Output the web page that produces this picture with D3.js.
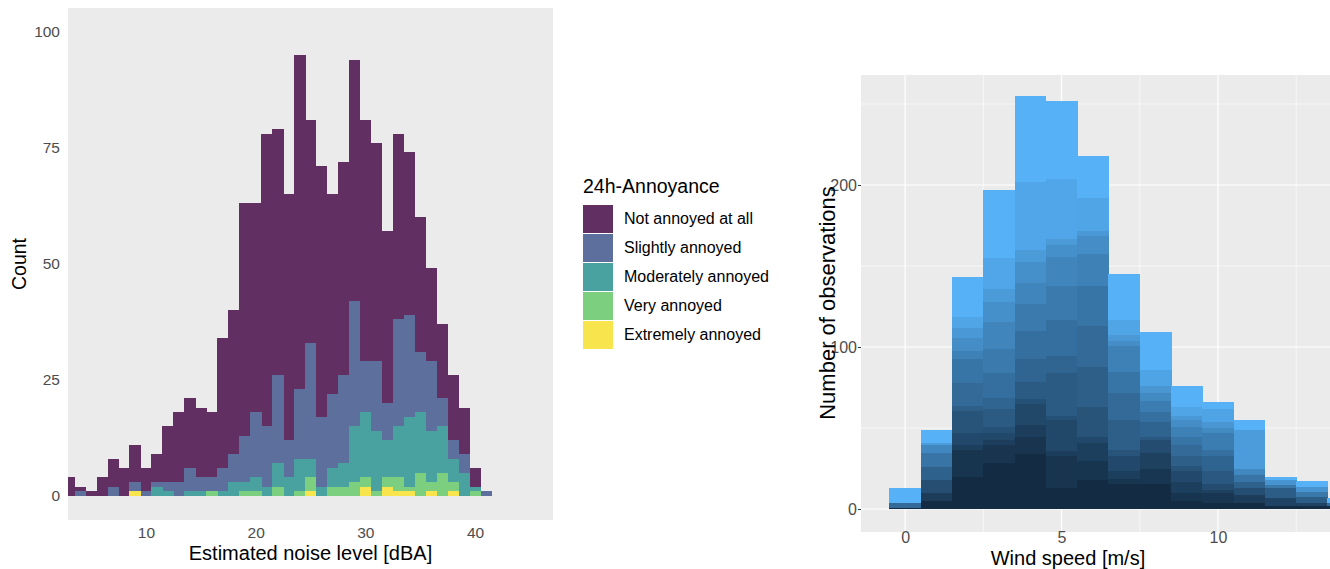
<!DOCTYPE html>
<html>
<head>
<meta charset="utf-8">
<script src="https://cdn.jsdelivr.net/npm/d3@7"></script>
<style>
  body { margin: 0; background: #ffffff; }
  svg { display: block; }
  text { font-family: "Liberation Sans", Arial, sans-serif; }
  .narrow text, text.narrow { font-family: "Liberation Sans Narrow", "Liberation Sans", Arial, sans-serif; }
  rect.bar { shape-rendering: crispEdges; }
</style>
</head>
<body>
<div id="chart"></div>
<script>
// ---- Left chart data: noise level histogram (bin centres, 1 dBA wide) ----
var noiseLevels = [3, 4, 5, 6, 7, 8, 9, 10, 11, 12, 13, 14, 15, 16, 17, 18, 19, 20, 21, 22,
  23, 24, 25, 26, 27, 28, 29, 30, 31, 32, 33, 34, 35, 36, 37, 38, 39, 40, 41];
var notAnnoyed = [4, 2, 1, 4, 8, 6, 11, 6, 9, 15, 18, 21, 19, 18, 34, 40, 63, 63, 78, 79,
  65, 95, 81, 71, 65, 72, 94, 81, 76, 57, 78, 74, 60, 49, 37, 26, 19, 6, 0];
var slightlyAnnoyed = [0, 1, 0, 0, 2, 0, 3, 1, 3, 3, 3, 6, 4, 4, 6, 9, 13, 18, 15, 26,
  12, 23, 33, 17, 22, 26, 42, 29, 29, 20, 38, 39, 31, 29, 21, 12, 9, 2, 1];
var moderatelyAnnoyed = [0, 0, 0, 0, 0, 0, 0, 0, 2, 1, 0, 1, 1, 1, 1, 3, 3, 4, 2, 7,
  4, 8, 8, 2, 6, 7, 15, 18, 14, 12, 15, 17, 18, 14, 15, 8, 5, 2, 0];
var veryAnnoyed = [0, 0, 0, 0, 0, 0, 0, 0, 0, 0, 0, 0, 0, 1, 0, 0, 1, 1, 0, 2,
  0, 1, 4, 0, 2, 2, 3, 4, 1, 4, 4, 2, 5, 3, 5, 3, 0, 1, 0];
var extremelyAnnoyed = [0, 0, 0, 0, 0, 0, 1, 0, 0, 0, 0, 0, 0, 0, 0, 0, 0, 0, 0, 0,
  0, 0, 1, 0, 0, 0, 0, 2, 0, 2, 1, 1, 0, 1, 0, 1, 0, 0, 0];
var annoyanceLabels = ["Not annoyed at all", "Slightly annoyed", "Moderately annoyed",
  "Very annoyed", "Extremely annoyed"];
var countTicks = [0, 25, 50, 75, 100];
var noiseTicks = [10, 20, 30, 40];

// ---- Right chart data: wind speed histogram, stacked layer tops per bin ----
var windSpeeds = [0, 1, 2, 3, 4, 5, 6, 7, 8, 9, 10, 11, 12, 13, 14];
var windStackTops = [
  [1, 4, 13],
  [5, 10, 18, 26, 35, 40, 41, 49],
  [20, 37, 40, 47, 61, 64, 78, 93, 98, 106, 112, 119, 143],
  [29, 40, 43, 47, 51, 62, 69, 84, 99, 116, 128, 136, 155, 197],
  [34, 45, 52, 65, 68, 79, 93, 110, 127, 140, 153, 160, 202, 255],
  [13, 33, 36, 55, 58, 84, 95, 117, 138, 156, 163, 167, 204, 252],
  [18, 30, 41, 45, 63, 88, 113, 138, 158, 169, 172, 192, 218],
  [16, 19, 24, 33, 37, 55, 72, 85, 101, 104, 108, 117, 145],
  [16, 25, 35, 43, 45, 54, 60, 67, 72, 76, 86, 109],
  [5, 10, 17, 24, 27, 33, 40, 45, 51, 55, 58, 63, 76],
  [4, 10, 12, 16, 24, 33, 37, 47, 50, 54, 62, 66],
  [4, 9, 13, 17, 21, 25, 49, 55],
  [2, 7, 13, 15, 18, 20],
  [2, 4, 8, 11, 14, 17],
  [2, 4, 7]
];
var windXTicks = [0, 5, 10];
var windYTicks = [0, 100, 200];
var windXMinor = [2.5, 7.5, 12.5];
var windYMinor = [50, 150, 250];

// svg container
var svgWidth = 1330;
var svgHeight = 569;

var svg = d3
  .select("#chart")
  .append("svg")
  .attr("width", svgWidth)
  .attr("height", svgHeight);

svg.append("rect")
  .attr("width", svgWidth)
  .attr("height", svgHeight)
  .attr("fill", "#ffffff");

// ================= LEFT PANEL =================
var leftPanel = { left: 68, right: 553, top: 8, bottom: 520 };

var xNoise = d3.scaleLinear()
  .domain([2.9, 47.1])
  .range([leftPanel.left, leftPanel.right]);

var yCount = d3.scaleLinear()
  .domain([-5.2, 105.1])
  .range([leftPanel.bottom, leftPanel.top]);

var annoyanceColors = ["#612f62", "#5d6f9c", "#49a29f", "#7ccf7f", "#f8e54e"];
var annoyanceSeries = [notAnnoyed, slightlyAnnoyed, moderatelyAnnoyed, veryAnnoyed, extremelyAnnoyed];

svg.append("defs").append("clipPath")
  .attr("id", "leftClip")
  .append("rect")
  .attr("x", leftPanel.left)
  .attr("y", leftPanel.top)
  .attr("width", leftPanel.right - leftPanel.left)
  .attr("height", leftPanel.bottom - leftPanel.top);

svg.append("rect")
  .attr("x", leftPanel.left)
  .attr("y", leftPanel.top)
  .attr("width", leftPanel.right - leftPanel.left)
  .attr("height", leftPanel.bottom - leftPanel.top)
  .attr("fill", "#ebebeb");

var leftBars = svg.append("g").attr("clip-path", "url(#leftClip)");

// overlaid histograms, each drawn from zero
annoyanceSeries.forEach(function (series, k) {
  leftBars.append("g")
    .selectAll("rect")
    .data(noiseLevels.map(function (c, i) { return { c: c, v: series[i] }; })
      .filter(function (d) { return d.v > 0; }))
    .enter()
    .append("rect")
    .attr("class", "bar")
    .attr("x", (d) => xNoise(d.c - 0.5))
    .attr("width", (d) => xNoise(d.c + 0.5) - xNoise(d.c - 0.5) + 0.5)
    .attr("y", (d) => yCount(d.v))
    .attr("height", (d) => yCount(0) - yCount(d.v))
    .attr("fill", annoyanceColors[k]);
});

// axes
var leftAxis = svg.append("g")
  .attr("transform", `translate(${leftPanel.left}, 0)`)
  .call(d3.axisLeft(yCount).tickValues(countTicks).tickSize(0).tickPadding(8));

var bottomAxis = svg.append("g")
  .attr("transform", `translate(0, ${leftPanel.bottom})`)
  .call(d3.axisBottom(xNoise).tickValues(noiseTicks).tickSize(0).tickPadding(7));

[leftAxis, bottomAxis].forEach(function (ax) {
  ax.select(".domain").remove();
  ax.selectAll("text")
    .attr("font-size", 15.5)
    .attr("fill", "#4d4d4d")
    .style("font-family", '"Liberation Sans", Arial, sans-serif');
});

// axis titles
svg.append("text")
  .attr("transform", "translate(26, 264) rotate(-90)")
  .attr("text-anchor", "middle")
  .attr("font-size", 19.5)
  .attr("fill", "#000")
  .text("Count");

svg.append("text")
  .attr("x", (leftPanel.left + leftPanel.right) / 2)
  .attr("y", 560)
  .attr("text-anchor", "middle")
  .attr("font-size", 20)
  .attr("fill", "#000")
  .text("Estimated noise level [dBA]");

// legend
var legend = svg.append("g");
legend.append("text")
  .attr("x", 583)
  .attr("y", 193)
  .attr("font-size", 19.5)
  .attr("fill", "#000")
  .text("24h-Annoyance");

annoyanceLabels.forEach(function (label, i) {
  legend.append("rect")
    .attr("class", "bar")
    .attr("x", 583)
    .attr("y", 205 + i * 29)
    .attr("width", 30)
    .attr("height", 27.5)
    .attr("fill", annoyanceColors[i]);
  legend.append("text")
    .attr("x", 624)
    .attr("y", 205 + i * 29 + 13.75)
    .attr("dy", "0.35em")
    .attr("font-size", 16)
    .attr("fill", "#000")
    .text(label);
});

// ================= RIGHT PANEL =================
var rightPanel = { left: 861, right: 1335, top: 75, bottom: 532 };

var xWind = d3.scaleLinear()
  .domain([-1.41, 13.74])
  .range([rightPanel.left, rightPanel.right]);

var yWind = d3.scaleLinear()
  .domain([-14.2, 267.9])
  .range([rightPanel.bottom, rightPanel.top]);

var layerColor = d3.interpolateLab("#132B43", "#56B1F7");

svg.select("defs").append("clipPath")
  .attr("id", "rightClip")
  .append("rect")
  .attr("x", rightPanel.left)
  .attr("y", rightPanel.top)
  .attr("width", rightPanel.right - rightPanel.left)
  .attr("height", rightPanel.bottom - rightPanel.top);

svg.append("rect")
  .attr("x", rightPanel.left)
  .attr("y", rightPanel.top)
  .attr("width", rightPanel.right - rightPanel.left)
  .attr("height", rightPanel.bottom - rightPanel.top)
  .attr("fill", "#ebebeb");

var grid = svg.append("g").attr("clip-path", "url(#rightClip)");

// minor grid
grid.selectAll(".vminor").data(windXMinor).enter().append("line")
  .attr("x1", (d) => xWind(d)).attr("x2", (d) => xWind(d))
  .attr("y1", rightPanel.top).attr("y2", rightPanel.bottom)
  .attr("stroke", "#fafafa").attr("stroke-width", 0.8);
grid.selectAll(".hminor").data(windYMinor).enter().append("line")
  .attr("y1", (d) => yWind(d)).attr("y2", (d) => yWind(d))
  .attr("x1", rightPanel.left).attr("x2", rightPanel.right)
  .attr("stroke", "#fafafa").attr("stroke-width", 0.8);
// major grid
grid.selectAll(".vmajor").data(windXTicks).enter().append("line")
  .attr("x1", (d) => xWind(d)).attr("x2", (d) => xWind(d))
  .attr("y1", rightPanel.top).attr("y2", rightPanel.bottom)
  .attr("stroke", "#ffffff").attr("stroke-width", 1.2);
grid.selectAll(".hmajor").data(windYTicks).enter().append("line")
  .attr("y1", (d) => yWind(d)).attr("y2", (d) => yWind(d))
  .attr("x1", rightPanel.left).attr("x2", rightPanel.right)
  .attr("stroke", "#ffffff").attr("stroke-width", 1.2);

// stacked layers, dark at the bottom to light on top
var bands = [];
windSpeeds.forEach(function (w, i) {
  var tops = windStackTops[i];
  tops.forEach(function (t, j) {
    bands.push({
      w: w,
      y0: j === 0 ? 0 : tops[j - 1],
      y1: t,
      shade: tops.length === 1 ? 1 : j / (tops.length - 1)
    });
  });
});

grid.append("g")
  .selectAll("rect")
  .data(bands)
  .enter()
  .append("rect")
  .attr("class", "bar")
  .attr("x", (d) => xWind(d.w - 0.5))
  .attr("width", (d) => xWind(d.w + 0.5) - xWind(d.w - 0.5) + 0.5)
  .attr("y", (d) => yWind(d.y1))
  .attr("height", (d) => yWind(d.y0) - yWind(d.y1) + 0.5)
  .attr("fill", (d) => layerColor(d.shade));

// axes
var windLeftAxis = svg.append("g")
  .attr("class", "narrow")
  .attr("transform", `translate(${rightPanel.left}, 0)`)
  .call(d3.axisLeft(yWind).tickValues(windYTicks).tickSize(3).tickPadding(1));

var windBottomAxis = svg.append("g")
  .attr("class", "narrow")
  .attr("transform", `translate(0, ${rightPanel.bottom})`)
  .call(d3.axisBottom(xWind).tickValues(windXTicks).tickSize(0).tickPadding(0));

[windLeftAxis, windBottomAxis].forEach(function (ax) {
  ax.select(".domain").remove();
  ax.selectAll("line").attr("stroke", "#333333");
  ax.selectAll("text")
    .attr("font-size", 16)
    .attr("fill", "#4d4d4d");
});

svg.append("text")
  .attr("transform", "translate(835, 303) rotate(-90)")
  .attr("text-anchor", "middle")
  .attr("font-size", 22)
  .attr("fill", "#000")
  .text("Number of observations");

svg.append("text")
  .attr("class", "narrow")
  .attr("x", 1068)
  .attr("y", 564.5)
  .attr("text-anchor", "middle")
  .attr("font-size", 20)
  .attr("fill", "#000")
  .text("Wind speed [m/s]");
</script>
</body>
</html>
